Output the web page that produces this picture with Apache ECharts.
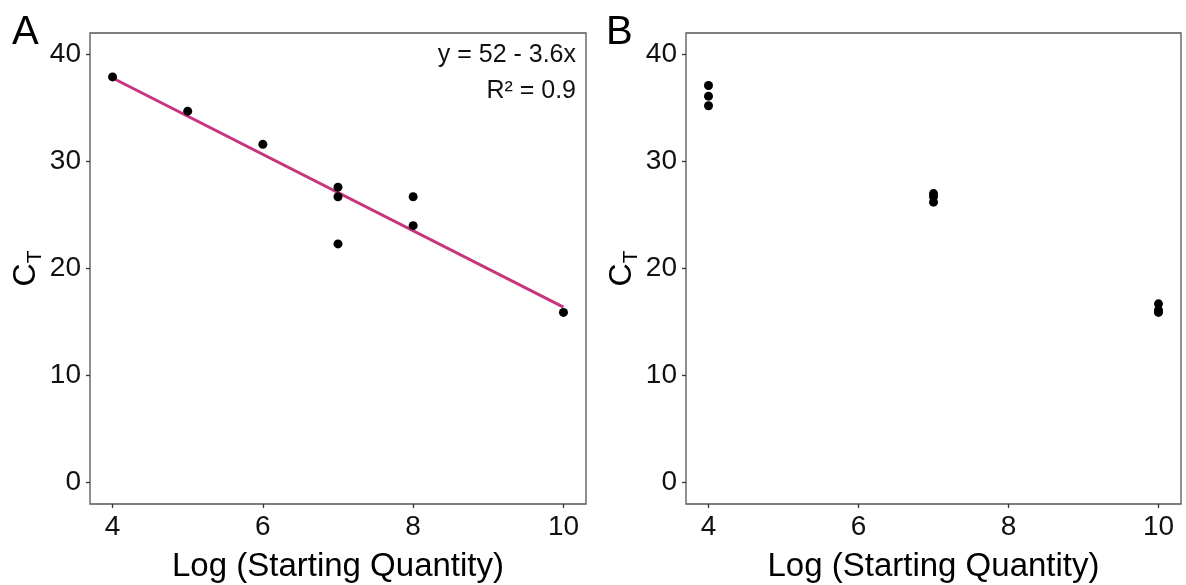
<!DOCTYPE html>
<html>
<head>
<meta charset="utf-8">
<script src="https://cdn.jsdelivr.net/npm/echarts@6/dist/echarts.min.js"></script>
<style>
html,body{margin:0;padding:0;background:#fff;}
#chart{width:1186px;height:585px;}
</style>
</head>
<body>
<div id="chart"></div>
<script>
// ---- Data ----
const panelLabels = ['A', 'B'];
const xTitle = 'Log (Starting Quantity)';
const xTicks = [4, 6, 8, 10];
const yTicks = [0, 10, 20, 30, 40];

// Panel A: log starting quantity vs CT
const xA = [4, 5, 6, 7, 7, 7, 8, 8, 10];
const yA = [37.9, 34.7, 31.6, 27.6, 26.7, 22.3, 26.7, 24.0, 15.9];

// Panel B
const xB = [4, 4, 4, 7, 7, 7, 10, 10, 10];
const yB = [37.1, 36.1, 35.2, 27.0, 26.7, 26.2, 16.7, 16.1, 15.9];

const fitText = ['y = 52 - 3.6x', 'R\u00b2 = 0.9'];

// ---- least-squares fit for panel A ----
function linFit(xs, ys) {
  const n = xs.length;
  const mx = xs.reduce((a, b) => a + b, 0) / n;
  const my = ys.reduce((a, b) => a + b, 0) / n;
  let sxy = 0, sxx = 0;
  for (let i = 0; i < n; i++) { sxy += (xs[i] - mx) * (ys[i] - my); sxx += (xs[i] - mx) ** 2; }
  const b = sxy / sxx;
  return { a: my - b * mx, b: b };
}
const fit = linFit(xA, yA);
const xMinA = Math.min(...xA), xMaxA = Math.max(...xA);
const fitLine = [[xMinA, fit.a + fit.b * xMinA], [xMaxA, fit.a + fit.b * xMaxA]];

const FONT = '"Liberation Sans", Arial, Helvetica, sans-serif';
const chart = echarts.init(document.getElementById('chart'), null, { renderer: 'canvas' });

function xAxisCfg(gi) {
  return {
    type: 'value', gridIndex: gi, min: 3.7, max: 10.3,
    name: xTitle, nameLocation: 'middle', nameGap: 46,
    nameTextStyle: { fontSize: 33, color: '#000', fontFamily: FONT },
    axisLine: { show: false, onZero: false },
    axisTick: { show: true, length: 4, lineStyle: { color: '#333', width: 1.3 }, customValues: xTicks },
    axisLabel: { fontSize: 28, color: '#111', fontFamily: FONT, margin: 9, customValues: xTicks,
                 showMinLabel: true, showMaxLabel: true },
    splitLine: { show: false }
  };
}
function yAxisCfg(gi) {
  return {
    type: 'value', gridIndex: gi, min: -2, max: 42,
    name: '{c|C}{t|T}', nameLocation: 'middle', nameGap: 46, nameRotate: 90,
    nameTextStyle: { color: '#000', fontFamily: FONT, fontSize: 32,
      rich: { c: { fontSize: 32, fontFamily: FONT, color: '#000' },
              t: { fontSize: 21, fontFamily: FONT, color: '#000', verticalAlign: 'bottom', padding: [0, 0, -4, 0] } } },
    axisLine: { show: false, onZero: false },
    axisTick: { show: true, length: 4, lineStyle: { color: '#333', width: 1.3 }, customValues: yTicks },
    axisLabel: { fontSize: 28, color: '#111', fontFamily: FONT, margin: 9, customValues: yTicks },
    splitLine: { show: false }
  };
}

const option = {
  backgroundColor: '#fff',
  animation: false,
  grid: [
    { left: 90, top: 33, width: 496, height: 471, show: true, borderColor: '#555', borderWidth: 1.3,
      backgroundColor: '#fff', containLabel: false, outerBoundsMode: 'none' },
    { left: 686, top: 33, width: 495, height: 471, show: true, borderColor: '#555', borderWidth: 1.3,
      backgroundColor: '#fff', containLabel: false, outerBoundsMode: 'none' }
  ],
  xAxis: [xAxisCfg(0), xAxisCfg(1)],
  yAxis: [yAxisCfg(0), yAxisCfg(1)],
  series: [
    { type: 'line', xAxisIndex: 0, yAxisIndex: 0, data: fitLine, symbol: 'none',
      lineStyle: { color: '#C8357F', width: 3 }, z: 2 },
    { type: 'scatter', xAxisIndex: 0, yAxisIndex: 0, data: xA.map((x, i) => [x, yA[i]]),
      symbolSize: 9, itemStyle: { color: '#000', opacity: 1 }, z: 3 },
    { type: 'scatter', xAxisIndex: 1, yAxisIndex: 1, data: xB.map((x, i) => [x, yB[i]]),
      symbolSize: 9, itemStyle: { color: '#000', opacity: 1 }, z: 3 }
  ],
  graphic: [
    { type: 'text', left: 12, top: 13, style: { text: panelLabels[0], fontSize: 40, fill: '#000', fontFamily: FONT } },
    { type: 'text', left: 606, top: 13, style: { text: panelLabels[1], fontSize: 40, fill: '#000', fontFamily: FONT } },
    { type: 'text', x: 576, y: 55, style: { text: fitText[0], fontSize: 25, fill: '#111', fontFamily: FONT, align: 'right', verticalAlign: 'middle' } },
    { type: 'text', x: 576, y: 91, style: { text: fitText[1], fontSize: 25, fill: '#111', fontFamily: FONT, align: 'right', verticalAlign: 'middle' } }
  ]
};
chart.setOption(option);
</script>
</body>
</html>
